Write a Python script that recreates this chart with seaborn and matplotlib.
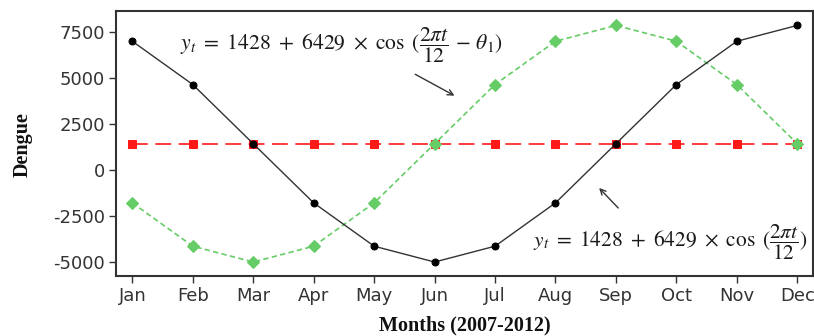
import matplotlib
matplotlib.use("Agg")
import matplotlib.pyplot as plt
import seaborn as sns
import pandas as pd
import numpy as np

months = ["Jan", "Feb", "Mar", "Apr", "May", "Jun", "Jul", "Aug", "Sep", "Oct", "Nov", "Dec"]
fitted_cos = [6996, 4643, 1428, -1787, -4140, -5001, -4140, -1787, 1428, 4643, 6996, 7857]
shifted_cos = [-1787, -4140, -5001, -4140, -1787, 1428, 4643, 6996, 7857, 6996, 4643, 1428]
mean_level = [1428] * 12
yticks = [-5000, -2500, 0, 2500, 5000, 7500]

sns.set_style("white")
plt.rcParams["mathtext.fontset"] = "stix"

fig = plt.figure(figsize=(8.14, 3.36), dpi=100)
ax_w = (813 - 116)
ax_h = (276 - 11)
ax = fig.add_axes([116 / 814, 1 - 276 / 336, ax_w / 814, ax_h / 336])

df = pd.DataFrame({"month": months, "a": fitted_cos, "b": shifted_cos, "c": mean_level})

sns.lineplot(data=df, x="month", y="c", ax=ax, color="#ff1a1a", lw=1.2,
             marker="s", markersize=6, markeredgecolor="#ff1a1a", sort=False)
ax.lines[-1].set_dashes([9.5, 4.5])
sns.lineplot(data=df, x="month", y="b", ax=ax, color="#66cc66", lw=1.2,
             marker="D", markersize=6.5, markeredgecolor="#66cc66", sort=False)
ax.lines[-1].set_dashes([3.2, 2])
sns.lineplot(data=df, x="month", y="a", ax=ax, color="#333333", lw=1.0,
             marker="o", markersize=5, markeredgecolor="black", markerfacecolor="black", sort=False)

ax.set_xlim(-0.27, 11.26)
ax.set_ylim(-5760, 8640)
ax.set_yticks(yticks)
ax.set_yticklabels([str(v) for v in yticks])

for s in ax.spines.values():
    s.set_color("#333333")
    s.set_linewidth(1.5)

ax.tick_params(axis="both", which="both", direction="out", length=5, width=1,
               color="#333333", labelcolor="#333333", labelsize=13, pad=3,
               bottom=True, left=True, top=False, right=False)

ax.set_xlabel("Months (2007-2012)", fontfamily="Liberation Serif", fontweight="bold",
              fontsize=14.5, color="#111111", va="center")
ax.set_ylabel("Dengue", fontfamily="Liberation Serif", fontweight="bold",
              fontsize=14.5, color="#111111", va="center")
ax.xaxis.set_label_coords(0.5, -(325 - 276) / ax_h)
ax.yaxis.set_label_coords(-(116 - 23) / ax_w, 0.5 + (143.5 - 145) / ax_h)

txtcol = "#1a1a1a"
ax.text(0.79, 6793,
        r"$y_t\ =\ 1428\ +\ 6429\ \times\ \cos\ (\dfrac{2\pi t}{12}\,-\,\theta_1)$",
        fontsize=15.6, color=txtcol, va="center", ha="left")
ax.text(6.63, -3913,
        r"$y_t\ =\ 1428\ +\ 6429\ \times\ \cos\ (\dfrac{2\pi t}{12})$",
        fontsize=15.4, color=txtcol, va="center", ha="left")

ax.annotate("", xy=(5.37, 3967), xytext=(4.64, 5272),
            arrowprops=dict(arrowstyle="->", color="#333333", lw=1.0))
ax.annotate("", xy=(7.69, -870), xytext=(8.07, -2174),
            arrowprops=dict(arrowstyle="->", color="#333333", lw=1.0))

fig.savefig("out.png", dpi=100)
